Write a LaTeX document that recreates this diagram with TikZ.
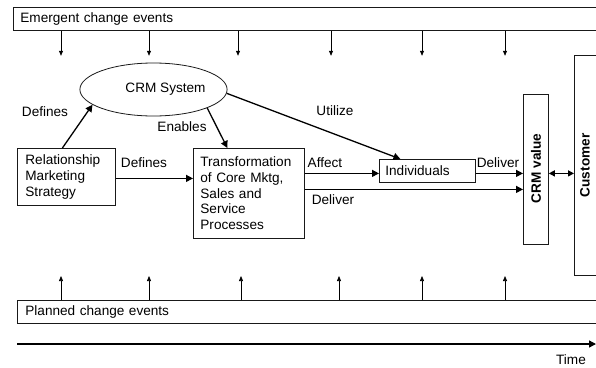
\documentclass[tikz,border=0pt]{standalone}
\usepackage{fontspec}
\setmainfont{Liberation Sans}
\usetikzlibrary{positioning,arrows.meta,shapes.geometric}
\newcommand{\diagfont}{\fontsize{13.6}{15.7}\selectfont}
\tikzset{
  box/.style    ={rectangle,draw=black!90,line width=0.8pt,align=left,anchor=north west,
                  inner ysep=0pt,font=\diagfont},
  evbar/.style  ={box,minimum width=620pt,minimum height=23pt,text width=606pt,inner xsep=7pt},
  crmsys/.style ={ellipse,draw=black!90,line width=0.8pt,minimum width=117pt,minimum height=53pt,
                  inner sep=0pt,font=\diagfont},
  lbl/.style    ={font=\diagfont,inner sep=0pt},
  vlbl/.style   ={font=\diagfont\bfseries,rotate=90,inner sep=0pt},
  flow/.style   ={-{Triangle[length=7pt,width=7pt]},line width=1.3pt},
  twoway/.style ={{Triangle[length=6pt,width=6pt]}-{Triangle[length=6pt,width=6pt]},line width=1.3pt},
  evarrow/.style={-{Triangle[length=5pt,width=4pt]},line width=0.7pt,draw=black},
}
\begin{document}
\begin{tikzpicture}[x=1pt,y=-1pt]
  \useasboundingbox (0,0) rectangle (596,367);
  \clip (0,0) rectangle (596,367);

  % ---- change events (top and bottom bars) ------------------------------
  \node[evbar] (emergent) at (13,7) {Emergent change events};
  \node[evbar,inner xsep=8pt] (planned) at (17,300) {Planned change events};
  \foreach \x in {61,149,238,331,422,505}
    \draw[evarrow] (emergent.south -| \x,0) -- ++(0,25);
  \foreach \x in {61,149,241,339,422,505}
    \draw[evarrow] (planned.north -| \x,0) -- ++(0,-24);

  % ---- strategy, system and processes -----------------------------------
  \node[crmsys] (crm) at (153.5,89.5) {\hspace*{24pt}CRM System};
  \node[box,text width=82pt,inner xsep=8pt,minimum height=57pt] (rms) at (17,148)
    {Relationship\\Marketing\\Strategy};
  \node[box,text width=97pt,inner xsep=7pt,minimum height=90pt] (tr) at (193,148)
    {Transformation\\of Core Mktg,\\Sales and\\Service\\Processes};
  \node[box,text width=84pt,inner xsep=6pt,minimum height=23pt] (ind) at (379,159)
    {Individuals};

  % ---- value and customer -----------------------------------------------
  \node[box,minimum width=25pt,minimum height=150pt] (value) at (523,94) {};
  \node[box,minimum width=40pt,minimum height=220pt] (cust) at (574,55) {};
  \node[vlbl] (valuetxt) at ([yshift=1pt]value.center) {CRM value};
  \node[vlbl] (custtxt) at ([xshift=11pt]cust.west) {Customer};

  % ---- connectors -------------------------------------------------------
  \draw[flow] ([xshift=-4pt]rms.north) -- (crm.194);
  \draw[flow] (crm.-19) -- ([xshift=-21.5pt]tr.north);
  \draw[flow] (crm.-3) -- ([xshift=-27pt]ind.north);
  \draw[flow] ([yshift=-1.5pt]rms.east) coordinate (d1) -- (d1 -| tr.west);
  \draw[flow] ([yshift=20pt]tr.east) coordinate (a0) -- (a0 -| ind.west);
  \draw[flow] (a0 -| ind.east) -- (a0 -| value.west);
  \draw[flow] ([yshift=4pt]tr.east) coordinate (d2) -- (d2 -| value.west);
  \draw[twoway] (a0 -| value.east) -- (a0 -| cust.west);

  % ---- connector labels -------------------------------------------------
  \node[lbl] (ldefa) at (45,112) {Defines};
  \node[lbl] (lena) at (182,127) {Enables};
  \node[lbl] (luti) at (335,111) {Utilize};
  \node[lbl] (ldefb) at (144,163) {Defines};
  \node[lbl] (laff) at (325,163) {Affect};
  \node[lbl] (ldela) at (498,163) {Deliver};
  \node[lbl] (ldelb) at (333,200) {Deliver};

  % ---- time axis --------------------------------------------------------
  \coordinate (t0) at (17,344);
  \coordinate (t1) at (596,344);
  \draw[flow] (t0) -- (t1);
  \node[lbl] (time) at (571,360) {Time};
\end{tikzpicture}
\end{document}
